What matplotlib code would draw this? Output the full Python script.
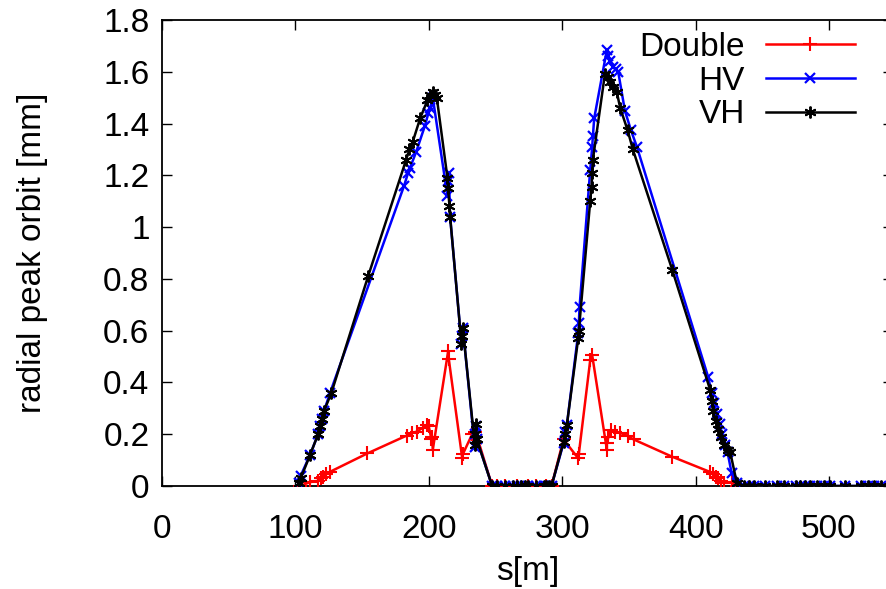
import matplotlib
matplotlib.use('Agg')
import matplotlib.pyplot as plt

# Double (red, '+')
s_double = [103.5, 111, 117, 119, 121, 123, 126, 154, 183.5, 187.5, 191, 195.5,
            198.5, 200, 202, 202.5, 203, 214.5, 215, 225, 225.7, 232.5, 235, 247.5,
            251, 257, 266, 274, 280, 288, 292, 301, 312, 312.5, 321, 322.5, 333.5,
            333.5, 334.7, 336.5, 339.5, 343.5, 349, 353.5, 382.5, 411, 413, 415, 417,
            419, 421, 427.5, 431]
y_double = [0.0, 0.015, 0.02, 0.03, 0.035, 0.045, 0.055, 0.126, 0.195, 0.205, 0.21, 0.225,
            0.235, 0.23, 0.18, 0.19, 0.14, 0.52, 0.49, 0.11, 0.125, 0.20, 0.21, 0.0,
            0.0, 0.0, 0.0, 0.0, 0.0, 0.0, 0.0, 0.18, 0.107, 0.125, 0.485, 0.505, 0.14,
            0.165, 0.19, 0.215, 0.21, 0.205, 0.194, 0.18, 0.113, 0.054, 0.045, 0.035, 0.03,
            0.02, 0.012, 0.015, 0.0]

# HV (blue, 'x')
s_hv = [103, 104, 111, 117, 118.5, 120, 121.5, 126, 181.5, 184.5, 186, 190.5, 197,
        199.7, 201, 203, 214, 214.5, 215, 216, 224.5, 225, 225.5, 234.5, 235, 235.5, 236,
        247.5, 251, 257, 263, 266, 269, 272, 274, 280, 286, 288, 290, 292, 301, 302, 303.5,
        312, 312.5, 313, 321, 322.5, 323, 324, 333.5, 334.5, 336, 338, 340, 342, 347, 351.5,
        356, 409.5, 412, 414, 416, 418, 420, 422, 424, 427, 431, 436, 440, 444, 452, 461,
        466, 475, 478, 482, 486, 491, 496, 501, 512, 524, 529, 534, 539]
y_hv = [0.01, 0.04, 0.12, 0.2, 0.23, 0.26, 0.29, 0.36, 1.16, 1.21, 1.23, 1.29, 1.39,
        1.44, 1.46, 1.50, 1.12, 1.18, 1.21, 1.04, 0.55, 0.58, 0.61, 0.15, 0.2, 0.23, 0.18,
        0.0, 0.0, 0.0, 0.0, 0.0, 0.0, 0.0, 0.0, 0.0, 0.0, 0.0, 0.0, 0.0, 0.165, 0.21, 0.235,
        0.59, 0.63, 0.69, 1.22, 1.31, 1.35, 1.42, 1.685, 1.66, 1.64, 1.62, 1.61, 1.60, 1.45, 1.375,
        1.31, 0.42, 0.36, 0.32, 0.28, 0.24, 0.2, 0.16, 0.13, 0.05, 0.01, 0.0, 0.0, 0.0, 0.0, 0.0,
        0.0, 0.0, 0.0, 0.0, 0.0, 0.0, 0.0, 0.0, 0.0, 0.0, 0.0, 0.0, 0.0]

# VH (black, '*')
s_vh = [102.5, 104, 111, 117, 118.5, 120, 121.5, 127, 154.5, 183, 185.5, 188, 193.5,
        199, 201, 203, 205, 206, 214, 214.5, 215.5, 216, 224.5, 225, 225.5, 234.5, 235,
        235.5, 236, 247.5, 251, 257, 263, 266, 269, 272, 274, 280, 286, 288, 290, 292, 301,
        302, 303.5, 312, 312.5, 321, 322, 322.5, 323, 332, 334, 336, 338, 341, 343.5, 349,
        353, 382.5, 411, 412, 413, 415, 417, 419, 421, 424, 426, 431, 436, 440, 444, 452,
        461, 466, 475, 478, 482, 486, 491, 496, 501, 512, 524, 529, 534, 539]
y_vh = [0.01, 0.03, 0.12, 0.2, 0.23, 0.26, 0.29, 0.36, 0.81, 1.26, 1.30, 1.33, 1.42,
        1.49, 1.51, 1.52, 1.51, 1.50, 1.19, 1.15, 1.08, 1.04, 0.55, 0.58, 0.61, 0.16, 0.2,
        0.24, 0.18, 0.0, 0.0, 0.0, 0.0, 0.0, 0.0, 0.0, 0.0, 0.0, 0.0, 0.0, 0.0, 0.0, 0.17,
        0.2, 0.235, 0.57, 0.6, 1.10, 1.155, 1.21, 1.26, 1.59, 1.58, 1.56, 1.54, 1.52, 1.46, 1.375,
        1.30, 0.835, 0.37, 0.33, 0.29, 0.25, 0.22, 0.19, 0.16, 0.14, 0.13, 0.01, 0.0, 0.0, 0.0,
        0.0, 0.0, 0.0, 0.0, 0.0, 0.0, 0.0, 0.0, 0.0, 0.0, 0.0, 0.0, 0.0, 0.0, 0.0]

x_ticks = [0, 100, 200, 300, 400, 500]
y_ticks = [0, 0.2, 0.4, 0.6, 0.8, 1, 1.2, 1.4, 1.6, 1.8]
y_ticklabels = ['0', '0.2', '0.4', '0.6', '0.8', '1', '1.2', '1.4', '1.6', '1.8']

plt.rcParams['font.family'] = ['Liberation Sans', 'DejaVu Sans']
FS = 24

fig = plt.figure(figsize=(8.87, 5.89), dpi=100)
# axes run past the right edge of the picture, as in the original
ax = fig.add_axes([162 / 887, 103 / 589, 731 / 887, 466 / 589])

ax.plot(s_double, y_double, color='#ff0000', lw=1.8, marker='+', ms=10, mew=1.5,
        label='Double', zorder=3)
ax.plot(s_hv, y_hv, color='#0000ff', lw=1.8, marker='x', ms=7.5, mew=1.6,
        label='HV', zorder=4)
ax.plot(s_vh, y_vh, color='black', lw=1.8, marker=(6, 2, 0), ms=8.5, mew=1.4,
        label='VH', zorder=5)

ax.set_xlim(0, 548)
ax.set_ylim(0, 1.8)
ax.set_xticks(x_ticks)
ax.set_yticks(y_ticks)
ax.set_yticklabels(y_ticklabels)
ax.tick_params(direction='in', length=7, width=1, labelsize=FS, top=True, right=True)
ax.tick_params(axis='x', pad=20)
ax.tick_params(axis='y', pad=9)
for sp in ax.spines.values():
    sp.set_linewidth(1.3)

ax.set_xlabel('s[m]', fontsize=FS, labelpad=8)
ax.set_ylabel('radial peak orbit [mm]', fontsize=FS, labelpad=40)

ax.legend(loc='upper right', bbox_to_anchor=(855 / 887, 1 - 32 / 589),
          bbox_transform=fig.transFigure,
          frameon=False, markerfirst=False, numpoints=1, fontsize=FS,
          handlelength=2.67, handletextpad=0.63, labelspacing=0.08,
          borderaxespad=0, borderpad=0)

fig.savefig('out.png', dpi=100)
